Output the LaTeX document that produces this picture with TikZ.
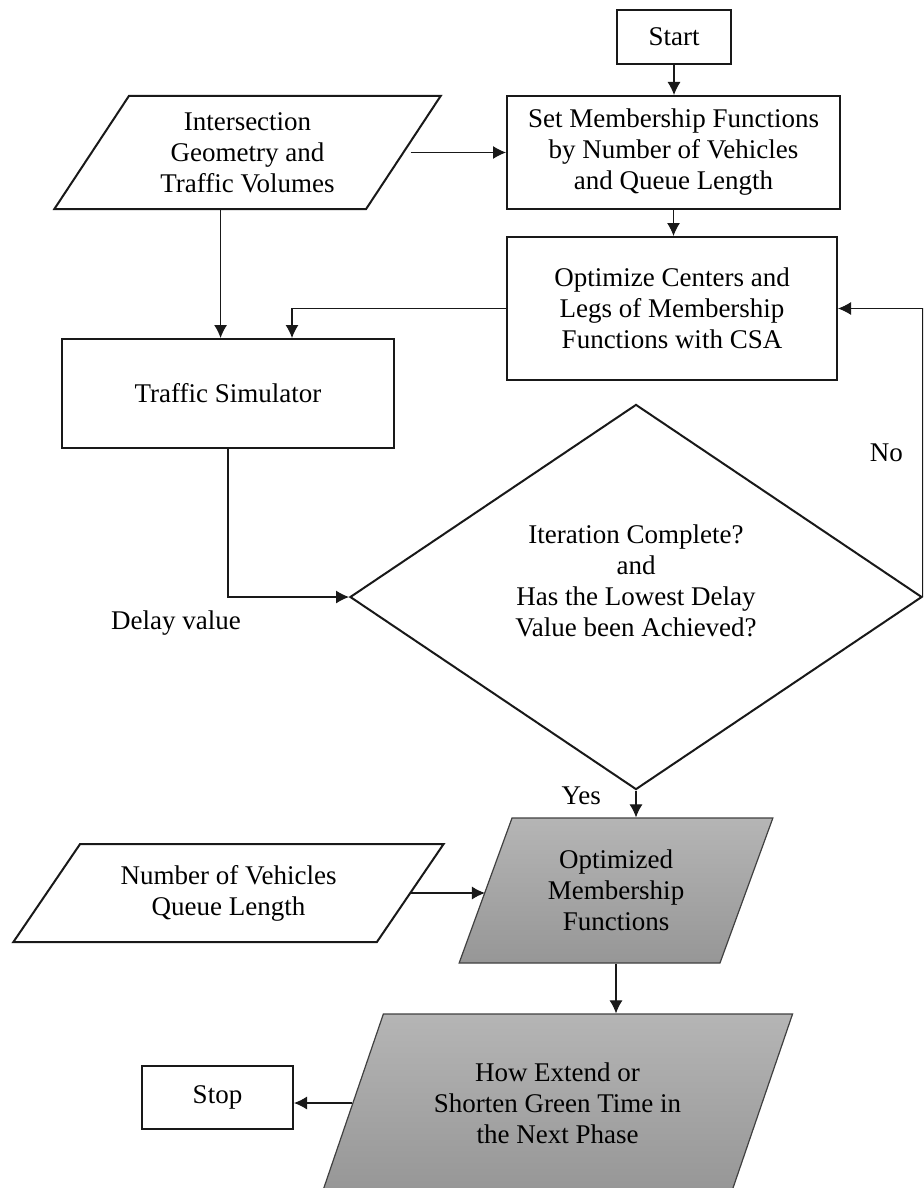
\documentclass[tikz,border=0pt]{standalone}
\usepackage{fontspec}
\setmainfont{Liberation Serif}
\usetikzlibrary{arrows.meta,positioning,shapes.geometric,calc}
\tikzset{
  box/.style={draw=black!90,line width=1pt,inner sep=0pt,align=center},
  io/.style={trapezium,trapezium stretches=true,draw=black!90,line width=1pt,inner sep=0pt,align=center},
  ioshade/.style={io,draw=black!75,line width=0.6pt,top color=gray!58,bottom color=gray!82},
  decision/.style={diamond,draw=black!90,line width=1pt,inner sep=0pt,align=center},
  conn/.style={-{Latex[length=6.5pt,width=6.5pt]},line width=0.55pt,draw=black!90}
}
\begin{document}
\begin{tikzpicture}[x=0.5pt,y=-0.5pt,font=\fontsize{13.5}{15.5}\selectfont]
  \useasboundingbox (0,0) rectangle (923,1188);
  \clip (0,0) rectangle (923,1188);
  % upper part
  \node[box,minimum width=57pt,minimum height=27pt] (start) at (674,37) {Start};
  \node[box,minimum width=166.5pt,minimum height=56.5pt] (setmf) at (673.5,152.5) {Set Membership Functions\\by Number of Vehicles\\and Queue Length};
  \node[io,trapezium left angle=55.7,trapezium right angle=124.3,minimum width=193.5pt,minimum height=56.5pt] (geom) at (247.5,152.5) {Intersection\\Geometry and\\Traffic Volumes};
  \node[box,minimum width=165pt,minimum height=71.5pt] (optcsa) at (672,308.5) {Optimize Centers and\\Legs of Membership\\Functions with CSA};
  \node[box,minimum width=166pt,minimum height=54.5pt] (sim) at (228,393.5) {Traffic Simulator};
  \node[decision,minimum width=286pt,minimum height=179pt,text depth=16pt] (check) at (636,597) {Iteration Complete?\\and\\Has the Lowest Delay\\Value been Achieved?};
  \node (delay) at (176,623) {Delay value};
  % lower part
  \node[ioshade,trapezium left angle=66.8,trapezium right angle=113.2,minimum width=157pt,minimum height=72.5pt] (optmf) at (616,890.5) {Optimized\\Membership\\Functions};
  \node[io,trapezium left angle=49,trapezium right angle=131,minimum width=215.5pt,minimum height=49pt] (nveh) at (228.5,893) {Number of Vehicles\\Queue Length};
  \node[ioshade,trapezium left angle=61.9,trapezium right angle=118.1,minimum width=235.5pt,minimum height=89pt] (green) at (557.5,1103) {How Extend or\\Shorten Green Time in\\the Next Phase};
  \node[box,minimum width=75.5pt,minimum height=31.5pt] (stop) at (217.5,1097.5) {Stop};
  % connectors
  \draw[conn] (start) -- (start |- setmf.north);
  \draw[conn,shorten <=3pt] (geom.east) -- (geom.east -| setmf.west);
  \draw[conn] (setmf.south) -- (setmf.south |- optcsa.north);
  \draw[conn] ($(geom.bottom left corner)!0.535!(geom.bottom right corner)$) coordinate (gdrop) -- (gdrop |- sim.north);
  \draw[conn] (optcsa.west) -| ($(sim.north)+(64,0)$);
  \draw[conn] (sim.south) |- (check.west);
  \draw[conn] (check.east) |- node[pos=0.25,left=6.5pt] {No} (optcsa.east);
  \draw[conn] (check.south) -- node[pos=0.2,left=14pt] {Yes} (check.south |- optmf.top side);
  \draw[conn] (nveh.east) -- (nveh.east -| optmf.west);
  \draw[conn] (optmf.center |- optmf.bottom side) -- (optmf.center |- green.top side);
  \draw[conn] (green.west) -- (green.west -| stop.east);
\end{tikzpicture}
\end{document}
